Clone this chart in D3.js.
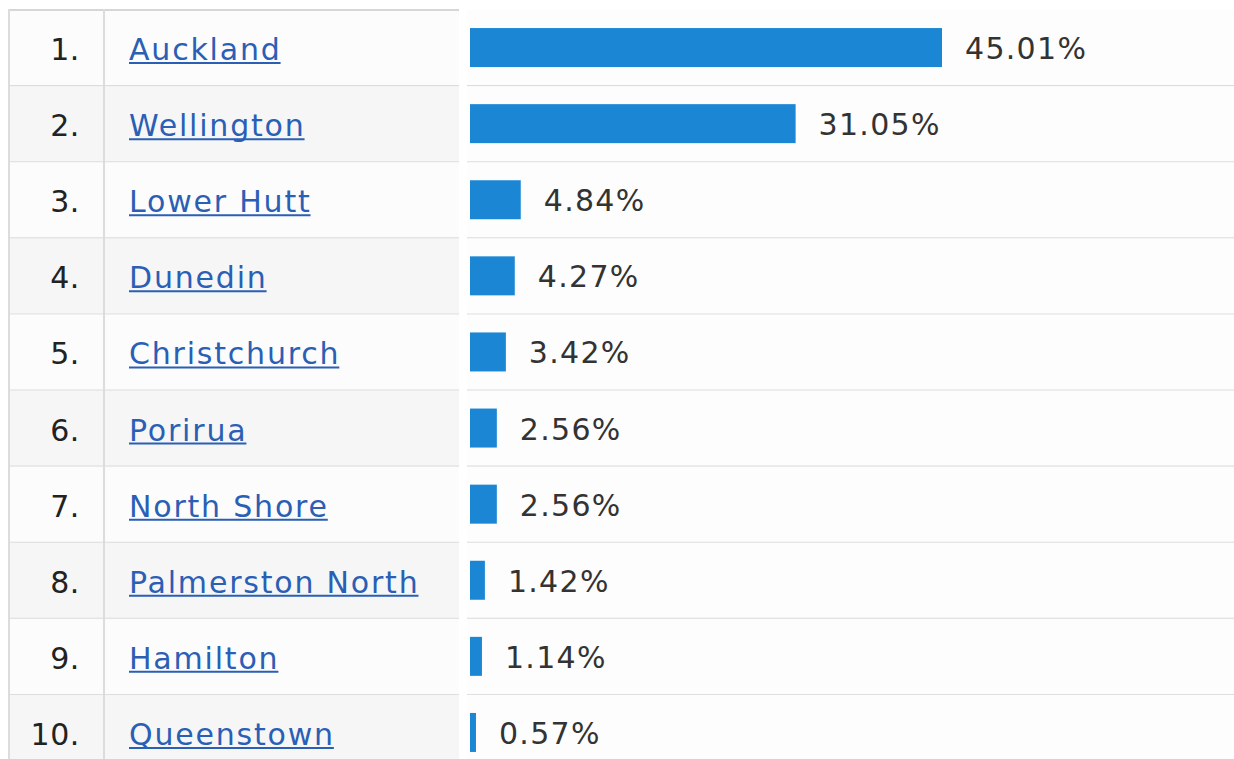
<!DOCTYPE html>
<html>
<head>
<meta charset="utf-8">
<script src="https://cdn.jsdelivr.net/npm/d3@7"></script>
<style>
  html, body { margin: 0; padding: 0; background: #fff; }
  svg { display: block; }
  text { font-family: "DejaVu Sans", Verdana, sans-serif; font-size: 30px; letter-spacing: 1.3px; }
  text.city { letter-spacing: 1.8px; }
  text.rank { letter-spacing: 0.6px; }
</style>
</head>
<body>
<div id="chart"></div>
<script>
const ranks = ["1.", "2.", "3.", "4.", "5.", "6.", "7.", "8.", "9.", "10."];
const cities = ["Auckland", "Wellington", "Lower Hutt", "Dunedin", "Christchurch",
                "Porirua", "North Shore", "Palmerston North", "Hamilton", "Queenstown"];
const shares = [45.01, 31.05, 4.84, 4.27, 3.42, 2.56, 2.56, 1.42, 1.14, 0.57];

const width = 1234, height = 759;

const svg = d3.select("#chart")
    .append("svg")
    .attr("width", width)
    .attr("height", height);

// rows
const y = d3.scaleBand()
    .domain(d3.range(cities.length))
    .range([10, 10 + 76.1 * cities.length]);

// bars
const x = d3.scaleLinear()
    .domain([0, 45.01])
    .range([470, 942]);

const leftX0 = 9, leftX1 = 459, divX = 104, rightX0 = 467;

const rows = svg.selectAll("g.row")
    .data(cities)
    .enter().append("g")
    .attr("class", "row")
    .attr("transform", (d, i) => `translate(0,${y(i)})`);

// left table cells
rows.append("rect")
    .attr("x", leftX0)
    .attr("width", leftX1 - leftX0)
    .attr("height", y.bandwidth())
    .attr("fill", (d, i) => i % 2 ? "#f6f6f6" : "#fcfcfc");

// right cells
rows.append("rect")
    .attr("x", rightX0)
    .attr("width", width - rightX0)
    .attr("height", y.bandwidth())
    .attr("fill", "#fdfdfd");

// row separators
rows.append("line")
    .attr("x1", leftX0).attr("x2", leftX1)
    .attr("y1", y.bandwidth()).attr("y2", y.bandwidth())
    .attr("stroke", "#dcdcdc").attr("stroke-width", 2);
rows.append("line")
    .attr("x1", rightX0).attr("x2", width)
    .attr("y1", y.bandwidth()).attr("y2", y.bandwidth())
    .attr("stroke", "#dcdcdc").attr("stroke-width", 2);

// table borders
svg.append("line")
    .attr("x1", leftX0).attr("x2", leftX1)
    .attr("y1", 10).attr("y2", 10)
    .attr("stroke", "#d6d6d6").attr("stroke-width", 2);
[leftX0, divX].forEach(vx => {
    svg.append("line")
        .attr("x1", vx).attr("x2", vx)
        .attr("y1", 9).attr("y2", height)
        .attr("stroke", "#dcdcdc").attr("stroke-width", 2);
});

const mid = y.bandwidth() / 2;

// rank numbers
rows.append("text")
    .attr("class", "rank")
    .attr("x", 80)
    .attr("y", mid + 12)
    .attr("text-anchor", "end")
    .attr("fill", "#222")
    .text((d, i) => ranks[i]);

// city links
const links = rows.append("text")
    .attr("class", "city")
    .attr("x", 129)
    .attr("y", mid + 12)
    .attr("fill", "#2a5fb5")
    .text(d => d);

links.each(function () {
    const w = this.getComputedTextLength();
    d3.select(this.parentNode).append("line")
        .attr("x1", 129).attr("x2", 129 + w - 1)
        .attr("y1", mid + 15).attr("y2", mid + 15)
        .attr("stroke", "#2a5fb5").attr("stroke-width", 2);
});

// bars
rows.append("rect")
    .attr("x", x(0))
    .attr("y", mid - 20)
    .attr("width", (d, i) => x(shares[i]) - x(0))
    .attr("height", 39)
    .attr("fill", "#1b87d4");

// values
rows.append("text")
    .attr("x", (d, i) => x(shares[i]) + 23)
    .attr("y", mid + 11)
    .attr("fill", "#333")
    .text((d, i) => shares[i].toFixed(2) + "%");
</script>
</body>
</html>
